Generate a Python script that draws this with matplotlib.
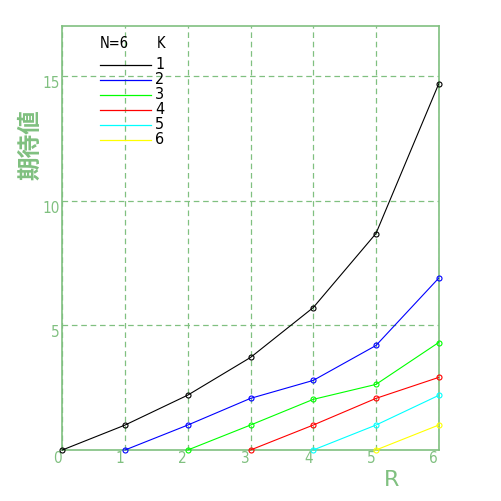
import matplotlib
matplotlib.use("Agg")
import matplotlib.pyplot as plt
from matplotlib.lines import Line2D
from matplotlib.transforms import ScaledTranslation

# expected values per K, starting at R = K-1
r_vals = [0, 1, 2, 3, 4, 5, 6]
k_labels = ["1", "2", "3", "4", "5", "6"]
k1 = [0.0, 1.0, 2.2, 3.71, 5.71, 8.68, 14.68]
k2 = [0.0, 1.0, 2.07, 2.79, 4.19, 6.89]
k3 = [0.0, 1.0, 2.03, 2.63, 4.31]
k4 = [0.0, 1.0, 2.07, 2.91]
k5 = [0.0, 1.0, 2.19]
k6 = [0.0, 1.0]
series = [k1, k2, k3, k4, k5, k6]
colors = ["#000000", "#0000ff", "#00ff00", "#ff0000", "#00ffff", "#ffff00"]
y_ticks = [5, 10, 15]

green = "#80c080"
W = H = 501

fig = plt.figure(figsize=(5.01, 5.01), dpi=100)
fig.patch.set_facecolor("white")
ax = fig.add_axes([62.3 / W, (H - 450) / H, 376.4 / W, 424 / H])

for i, (vals, c) in enumerate(zip(series, colors)):
    xs = r_vals[i:i + len(vals)]
    ax.plot(xs, vals, color=c, lw=0.8, marker="o", ms=3.6, mfc="none",
            mec=c, mew=0.8, zorder=3, clip_on=False)

ax.set_xlim(0, 6)
ax.set_ylim(0, 17)
ax.set_xticks(r_vals)
ax.set_yticks(y_ticks)
ax.grid(True, color=green, ls=(0, (4.5, 3)), lw=0.9)
for s in ax.spines.values():
    s.set_color(green)
    s.set_linewidth(1.2)
ax.tick_params(length=0, colors=green, labelsize=11)
ax.tick_params(axis="x", pad=1)
ax.tick_params(axis="y", pad=2)
for lab in ax.get_xticklabels():
    lab.set_fontstretch("condensed")
    lab.set_transform(lab.get_transform() + ScaledTranslation(-5 / 100, 0, fig.dpi_scale_trans))
for lab in ax.get_yticklabels():
    lab.set_fontstretch("condensed")
    lab.set_transform(lab.get_transform() + ScaledTranslation(0, -6 / 100, fig.dpi_scale_trans))

fig.text(30 / W, 1 - 145 / H, "期待値", rotation=90, ha="center", va="center",
         color=green, fontsize=17, fontweight="bold",
         family=["Noto Sans CJK JP", "DejaVu Sans"])
fig.text(392 / W, 1 - 480 / H, "R", ha="center", va="center", color=green,
         fontsize=16)

# legend block
fig.text(100 / W, 1 - 43 / H, "N=6", ha="left", va="center", fontsize=10.5,
         fontstretch="condensed")
fig.text(157 / W, 1 - 43 / H, "K", ha="left", va="center", fontsize=10.5,
         fontstretch="condensed")
for j, (lab, c) in enumerate(zip(k_labels, colors)):
    y = 1 - (65.3 + 15 * j) / H
    fig.add_artist(Line2D([100 / W, 151 / W], [y, y], color=c, lw=0.9,
                          transform=fig.transFigure))
    fig.text(155 / W, y + 1 / H, lab, ha="left", va="center", fontsize=11.5,
             fontstretch="condensed")

fig.savefig("out.png", dpi=100)
